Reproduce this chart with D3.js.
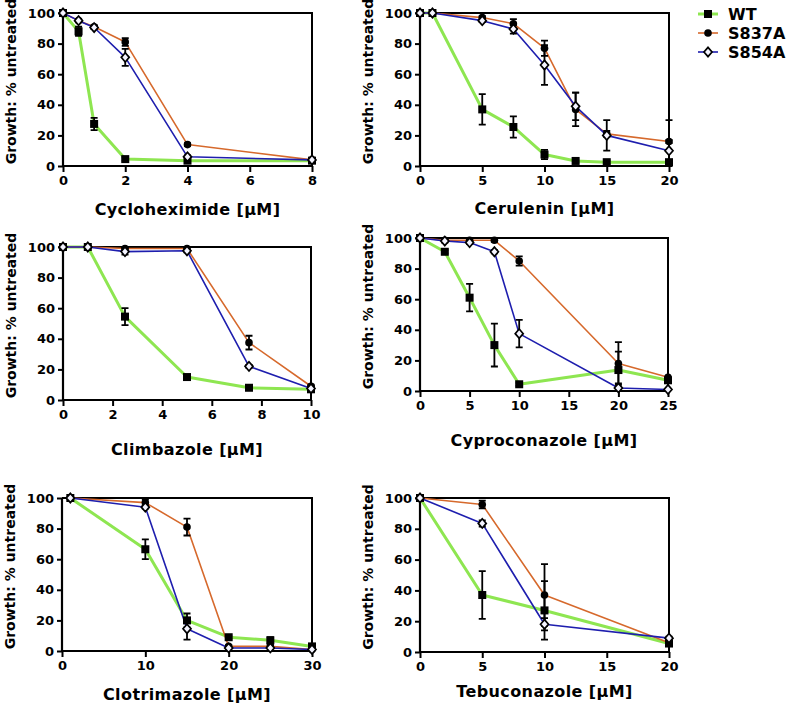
<!DOCTYPE html>
<html><head><meta charset="utf-8">
<script src="https://cdn.jsdelivr.net/npm/d3@7"></script>
<style>
html,body{margin:0;padding:0;background:#fff;}
svg text{font-family:"DejaVu Sans",sans-serif;font-weight:bold;fill:#000;}
</style></head>
<body><svg id="c" width="800" height="705"></svg>
<script>
// ---- Data ----
const seriesNames = ["WT", "S837A", "S854A"];
const yTicks = [0, 20, 40, 60, 80, 100];

const cycloX = [0, 0.5, 1, 2, 4, 8];
const cycloWT = [100, 88, 27.5, 4.5, 3.5, 3.5];
const cycloWTerr = [0, 3, 4, 1, 1, 0];
const cycloS837A = [100, 95, 91, 81, 14, 4];
const cycloS837Aerr = [0, 1, 1, 2.5, 1, 0];
const cycloS854A = [100, 95, 90.5, 71, 6, 4];
const cycloS854Aerr = [0, 1, 1, 5.5, 1, 0];
const cycloTicks = [0, 2, 4, 6, 8];

const ceruX = [0, 1, 5, 7.5, 10, 12.5, 15, 20];
const ceruWT = [100, 100, 37, 25.5, 7.5, 3.3, 2.5, 2.5];
const ceruWTerr = [0, 0, 10, 7, 3, 1, 1, 1];
const ceruS837A = [100, 100, 97, 93, 77, 37, 21, 16];
const ceruS837Aerr = [0, 0, 1, 3, 5, 11, 2, 1];
const ceruS854A = [100, 100, 95, 89.5, 66, 39, 20, 10];
const ceruS854Aerr = [0, 0, 1, 3, 13, 9, 10, 20];
const ceruTicks = [0, 5, 10, 15, 20];

const climX = [0, 1, 2.5, 5, 7.5, 10];
const climWT = [100, 100, 54.5, 15, 8, 7];
const climWTerr = [0, 0, 5.5, 1, 1, 0];
const climS837A = [100, 100, 99, 99, 37.5, 9];
const climS837Aerr = [0, 0, 1, 1, 4.5, 1];
const climS854A = [100, 100, 97, 97.5, 22, 7.5];
const climS854Aerr = [0, 0, 2, 1, 1, 0];
const climTicks = [0, 2, 4, 6, 8, 10];

const cyprX = [0, 2.5, 5, 7.5, 10, 20, 25];
const cyprWT = [100, 91, 61, 30, 4.4, 13.7, 7];
const cyprWTerr = [0, 1, 9, 14, 1, 12, 0];
const cyprS837A = [100, 98.5, 98.5, 98.5, 85, 18, 9];
const cyprS837Aerr = [0, 1, 1, 1, 3, 14, 0];
const cyprS854A = [100, 98, 97, 91, 37.5, 2, 1];
const cyprS854Aerr = [0, 1, 1, 1, 9, 3, 0];
const cyprTicks = [0, 5, 10, 15, 20, 25];

const clotX = [1, 10, 15, 20, 25, 30];
const clotWT = [100, 66.5, 20, 9, 7, 3];
const clotWTerr = [0, 6.5, 4.5, 1, 2, 1];
const clotS837A = [100, 97, 81, 3, 3, 1];
const clotS837Aerr = [0, 2, 5.5, 1, 1, 0];
const clotS854A = [100, 94, 14.5, 2, 2, 1];
const clotS854Aerr = [0, 1, 7, 1, 0, 0];
const clotTicks = [0, 10, 20, 30];

const tebuX = [0, 5, 10, 20];
const tebuWT = [100, 37, 27, 5.5];
const tebuWTerr = [0, 15.5, 19, 1];
const tebuS837A = [100, 95.8, 37, 6];
const tebuS837Aerr = [0, 2.5, 20, 1];
const tebuS854A = [100, 83.5, 18, 9];
const tebuS854Aerr = [0, 2, 4, 1];
const tebuTicks = [0, 5, 10, 15, 20];

// ---- Styles ----
const colors = {WT: "#8ee651", S837A: "#d6692c", S854A: "#1e1eae"};
const widths = {WT: 3, S837A: 1.6, S854A: 1.6};

const panels = [
  {title: "Cycloheximide [\u03bcM]", x: cycloX, ticks: cycloTicks, max: 8,
   ys: [cycloWT, cycloS837A, cycloS854A], es: [cycloWTerr, cycloS837Aerr, cycloS854Aerr],
   x0: 63, x1: 312, yTop: 13, yBot: 166, titleY: 215},
  {title: "Cerulenin [\u03bcM]", x: ceruX, ticks: ceruTicks, max: 20,
   ys: [ceruWT, ceruS837A, ceruS854A], es: [ceruWTerr, ceruS837Aerr, ceruS854Aerr],
   x0: 420, x1: 669, yTop: 13, yBot: 166, titleY: 214},
  {title: "Climbazole [\u03bcM]", x: climX, ticks: climTicks, max: 10,
   ys: [climWT, climS837A, climS854A], es: [climWTerr, climS837Aerr, climS854Aerr],
   x0: 63, x1: 311, yTop: 247, yBot: 400, titleY: 455},
  {title: "Cyproconazole [\u03bcM]", x: cyprX, ticks: cyprTicks, max: 25,
   ys: [cyprWT, cyprS837A, cyprS854A], es: [cyprWTerr, cyprS837Aerr, cyprS854Aerr],
   x0: 420, x1: 668, yTop: 238, yBot: 391, titleY: 446},
  {title: "Clotrimazole [\u03bcM]", x: clotX, ticks: clotTicks, max: 30,
   ys: [clotWT, clotS837A, clotS854A], es: [clotWTerr, clotS837Aerr, clotS854Aerr],
   x0: 62, x1: 312, yTop: 498, yBot: 651, titleY: 700},
  {title: "Tebuconazole [\u03bcM]", x: tebuX, ticks: tebuTicks, max: 20,
   ys: [tebuWT, tebuS837A, tebuS854A], es: [tebuWTerr, tebuS837Aerr, tebuS854Aerr],
   x0: 420, x1: 669, yTop: 498, yBot: 652, titleY: 697}
];

const svg = d3.select("#c");

function drawMarker(g, name, cx, cy) {
  if (name === "WT") {
    g.append("rect").attr("x", cx - 4).attr("y", cy - 4).attr("width", 8).attr("height", 8).attr("fill", "#000");
  } else if (name === "S837A") {
    g.append("circle").attr("cx", cx).attr("cy", cy).attr("r", 3.8).attr("fill", "#000");
  } else {
    g.append("path").attr("d", "M0,-4.6L4,0L0,4.6L-4,0Z").attr("transform", `translate(${cx},${cy})`)
      .attr("fill", "#f4f4ff").attr("stroke", "#000").attr("stroke-width", 1.7);
  }
}

panels.forEach(p => {
  const xs = d3.scaleLinear().domain([0, p.max]).range([p.x0, p.x1]);
  const ys = d3.scaleLinear().domain([0, 100]).range([p.yBot, p.yTop]);
  const g = svg.append("g");

  // frame (top & right)
  g.append("path").attr("d", `M${p.x0},${p.yTop}H${p.x1}V${p.yBot}`)
    .attr("fill", "none").attr("stroke", "#000").attr("stroke-width", 2);

  const xa = g.append("g").attr("transform", `translate(0,${p.yBot})`)
    .call(d3.axisBottom(xs).tickValues(p.ticks).tickSize(6).tickPadding(4).tickFormat(d3.format("d")));
  const ya = g.append("g").attr("transform", `translate(${p.x0},0)`)
    .call(d3.axisLeft(ys).tickValues(yTicks).tickSize(5).tickPadding(3));
  [xa, ya].forEach(a => {
    a.select(".domain").attr("stroke-width", 2.2).attr("stroke", "#000");
    a.selectAll(".tick line").attr("stroke-width", 2).attr("stroke", "#000");
    a.selectAll("text").attr("font-size", 13).attr("font-family", "DejaVu Sans").attr("font-weight", "bold").attr("fill", "#000");
  });
  xa.select(".domain").attr("d", `M${p.x0},0H${p.x1}`);
  ya.select(".domain").attr("d", `M0,${p.yBot}V${p.yTop}`);

  // axis titles
  g.append("text").attr("x", (p.x0 + p.x1) / 2).attr("y", p.titleY)
    .attr("text-anchor", "middle").attr("font-size", 16).attr("letter-spacing", 0.4).text(p.title);
  const cy = (p.yTop + p.yBot) / 2 - 8;
  const tx = p.x0 - 47;
  g.append("text").attr("transform", `translate(${tx},${cy}) rotate(-90)`)
    .attr("text-anchor", "middle").attr("font-size", 14).text("Growth: % untreated");

  // lines
  seriesNames.forEach((name, si) => {
    const pts = p.x.map((xv, i) => [xs(xv), ys(p.ys[si][i])]);
    g.append("path").attr("d", d3.line()(pts)).attr("fill", "none")
      .attr("stroke", colors[name]).attr("stroke-width", widths[name]).attr("stroke-linejoin", "round");
  });
  // error bars
  seriesNames.forEach((name, si) => {
    p.x.forEach((xv, i) => {
      const e = p.es[si][i];
      if (!e) return;
      const v = p.ys[si][i];
      const cx = xs(xv), yt = ys(Math.min(100, v + e)), yb = ys(Math.max(0, v - e));
      g.append("path").attr("d", `M${cx},${yt}V${yb}M${cx - 3.5},${yt}H${cx + 3.5}M${cx - 3.5},${yb}H${cx + 3.5}`)
        .attr("stroke", "#000").attr("stroke-width", 1.8).attr("fill", "none");
    });
  });
  // markers
  seriesNames.forEach((name, si) => {
    p.x.forEach((xv, i) => drawMarker(g, name, xs(xv), ys(p.ys[si][i])));
  });
});

// legend
const lg = svg.append("g");
seriesNames.forEach((name, i) => {
  const y = 14 + i * 19;
  lg.append("line").attr("x1", 698).attr("x2", 718).attr("y1", y).attr("y2", y)
    .attr("stroke", colors[name]).attr("stroke-width", widths[name]);
  drawMarker(lg, name, 708, y);
  lg.append("text").attr("x", 728).attr("y", y).attr("dy", "0.36em").attr("font-size", 16).text(name);
});
</script>
</body></html>
